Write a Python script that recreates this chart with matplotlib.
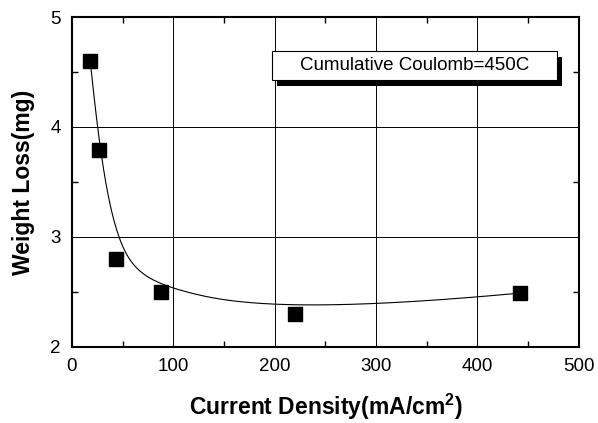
import numpy as np
import matplotlib
matplotlib.use('Agg')
import matplotlib.pyplot as plt
import matplotlib.patheffects as pe
from matplotlib.patches import Rectangle

# measured points
current_density = [18, 27, 43, 88, 220, 442]
weight_loss = [4.60, 3.79, 2.80, 2.50, 2.30, 2.49]

plt.rcParams['font.family'] = ['Liberation Sans', 'DejaVu Sans']
plt.rcParams['mathtext.fontset'] = 'custom'
plt.rcParams['mathtext.rm'] = 'Liberation Sans:bold'
plt.rcParams['mathtext.bf'] = 'Liberation Sans:bold'


# clamped cubic B-spline with the data points as control points
def bspline(px, py, k=3, num=400):
    n = len(px)
    knots = np.concatenate([np.zeros(k), np.linspace(0, 1, n - k + 1), np.ones(k)])
    t = np.linspace(0, 1, num)

    def basis(i, p):
        if p == 0:
            b = ((knots[i] <= t) & (t < knots[i + 1])).astype(float)
            if knots[i + 1] == 1 and knots[i] < 1:
                b[t == 1] = 1
            return b
        out = np.zeros_like(t)
        if knots[i + p] != knots[i]:
            out += (t - knots[i]) / (knots[i + p] - knots[i]) * basis(i, p - 1)
        if knots[i + p + 1] != knots[i + 1]:
            out += (knots[i + p + 1] - t) / (knots[i + p + 1] - knots[i + 1]) * basis(i + 1, p - 1)
        return out

    B = np.array([basis(i, k) for i in range(n)])
    return B.T @ np.array(px, float), B.T @ np.array(py, float)


fig = plt.figure(figsize=(5.98, 4.23), dpi=100)
ax = fig.add_axes([0.1204, 0.1797, 0.8476, 0.7801])

xs, ys = bspline(current_density, weight_loss)
ax.plot(xs, ys, color='black', lw=0.8)
ax.plot(current_density, weight_loss, 's', color='black', ms=9.5)

ax.set_xlim(0, 500)
ax.set_ylim(2, 5)
ax.set_xticks([0, 100, 200, 300, 400, 500])
ax.set_xticks(np.arange(50, 500, 100), minor=True)
ax.set_yticks([2, 3, 4, 5])
ax.set_yticks([2.5, 3.5, 4.5], minor=True)
ax.grid(True, which='major', color='black', lw=0.7)
ax.tick_params(which='both', direction='in', top=True, right=True, labelsize=13.5)
ax.tick_params(which='major', length=0, pad=8)
ax.tick_params(which='minor', length=4, width=1)
for s in ax.spines.values():
    s.set_linewidth(1.5)

ax.set_xlabel('Current Density(mA/cm$^2$)', fontsize=16.5, fontweight='bold', labelpad=12)
ax.set_ylabel('Weight Loss(mg)', fontsize=16.5, fontweight='bold', labelpad=11)

box = Rectangle((197, 4.427), 281, 0.263, fc='white', ec='black', lw=0.8, zorder=5)
box.set_path_effects([pe.SimplePatchShadow(offset=(4, -4), shadow_rgbFace='black', alpha=1),
                      pe.Normal()])
ax.add_patch(box)
ax.text(337.5, 4.558, 'Cumulative Coulomb=450C', fontsize=13.5, ha='center', va='center', zorder=6)

fig.savefig('out.png', dpi=100)
